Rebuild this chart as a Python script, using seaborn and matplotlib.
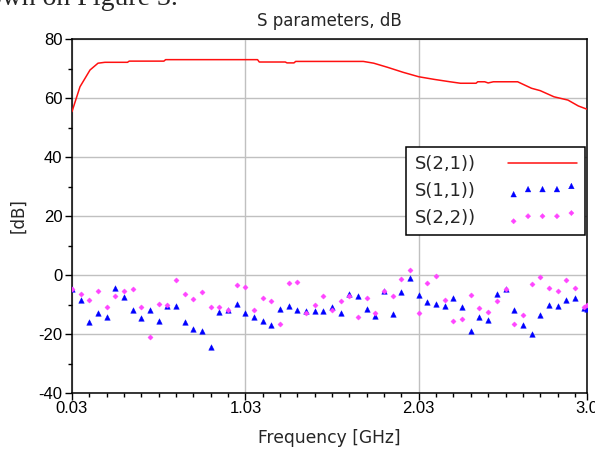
import matplotlib
matplotlib.use("Agg")
import matplotlib.pyplot as plt
import pandas as pd
import seaborn as sns
from matplotlib.ticker import FixedLocator, MultipleLocator

# S(2,1) trace
s21_freq = [0.03, 0.076, 0.134, 0.18, 0.22, 0.35, 0.36, 0.56, 0.57, 1.10, 1.11, 1.26, 1.27,
            1.31, 1.32, 1.71, 1.77, 1.85, 1.94, 2.03, 2.12, 2.21, 2.27, 2.36, 2.37, 2.41,
            2.43, 2.46, 2.60, 2.68, 2.73, 2.81, 2.89, 2.95, 3.0]
s21_db = [55.4, 63.8, 69.5, 71.8, 72.1, 72.1, 72.5, 72.5, 73.0, 73.0, 72.2, 72.2, 71.9,
          71.9, 72.4, 72.4, 71.8, 70.4, 68.7, 67.2, 66.3, 65.5, 65.0, 65.0, 65.5, 65.5,
          65.1, 65.5, 65.5, 63.3, 62.5, 60.4, 59.3, 57.3, 56.2]

# sampled reflection points
freq = [0.03, 0.08, 0.13, 0.18, 0.23, 0.28, 0.33, 0.38, 0.43, 0.48,
        0.53, 0.58, 0.63, 0.68, 0.73, 0.78, 0.83, 0.88, 0.93, 0.98,
        1.03, 1.08, 1.13, 1.18, 1.23, 1.28, 1.33, 1.38, 1.43, 1.48,
        1.53, 1.58, 1.63, 1.68, 1.73, 1.78, 1.83, 1.88, 1.93, 1.98,
        2.03, 2.08, 2.13, 2.18, 2.23, 2.28, 2.33, 2.38, 2.43, 2.48,
        2.53, 2.58, 2.63, 2.68, 2.73, 2.78, 2.83, 2.88, 2.93, 2.98, 3.0]
s11_db = [-4.6, -8.6, -16.0, -12.8, -14.3, -4.3, -7.4, -11.7, -14.6, -12.0,
          -15.5, -10.6, -10.6, -15.8, -18.3, -19.1, -24.5, -12.6, -12.0, -9.7,
          -12.9, -14.3, -15.5, -17.0, -11.5, -10.5, -11.7, -12.1, -12.3, -12.1,
          -10.9, -12.8, -6.4, -7.2, -11.4, -13.9, -5.5, -13.3, -5.6, -1.1,
          -6.7, -9.0, -9.7, -10.5, -7.7, -10.9, -18.9, -14.2, -15.4, -6.3,
          -4.8, -12.0, -16.8, -20.0, -13.7, -10.1, -10.5, -8.5, -7.9, -11.1, -11.4]
s22_db = [-4.6, -6.3, -8.6, -5.4, -10.9, -7.2, -5.4, -4.9, -10.9, -21.1,
          -9.7, -10.3, -1.8, -6.6, -8.1, -5.8, -10.9, -10.9, -11.8, -3.4,
          -4.0, -11.7, -7.7, -8.9, -16.5, -2.7, -2.3, -12.9, -10.3, -7.2,
          -11.7, -8.9, -7.1, -14.3, -7.7, -12.9, -5.4, -7.2, -1.4, 1.7,
          -12.9, -2.7, -0.5, -8.6, -15.7, -14.9, -6.7, -11.2, -12.6, -8.9,
          -4.8, -16.6, -13.4, -3.1, -0.8, -4.5, -5.4, -1.7, -4.5, -10.9, -10.3]

x_ticks = [0.03, 1.03, 2.03, 3.0]
x_ticklabels = ["0.03", "1.03", "2.03", "3.0"]


def main():
    sns.set_style("white")
    plt.rcParams["font.family"] = ["Liberation Sans", "DejaVu Sans"]
    plt.rcParams["axes.unicode_minus"] = False
    txt_font = ["DejaVu Sans"]

    trace = pd.DataFrame({"Frequency": s21_freq, "dB": s21_db})
    points = pd.DataFrame({"Frequency": freq, "S11": s11_db, "S22": s22_db})

    fig = plt.figure(figsize=(5.95, 4.51), dpi=100)
    ax = fig.add_axes([72 / 595, 1 - 393 / 451, 515 / 595, 354 / 451])

    sns.lineplot(x="Frequency", y="dB", data=trace, ax=ax, color="#ff1010", lw=1.1,
                 label="S(2,1))", zorder=3)
    sns.scatterplot(x="Frequency", y="S11", data=points, ax=ax, marker="^", s=16,
                    color="#0000ff", edgecolor="#0000ff", linewidth=0.3,
                    label="S(1,1))", zorder=4)
    sns.scatterplot(x="Frequency", y="S22", data=points, ax=ax, marker="D", s=7,
                    color="#ff44ff", edgecolor="#ff44ff", linewidth=0.3,
                    label="S(2,2))", zorder=4)

    ax.set_xlim(0.03, 3.0)
    ax.set_ylim(-40, 80)
    ax.xaxis.set_major_locator(FixedLocator(x_ticks))
    ax.set_xticklabels(x_ticklabels)
    ax.xaxis.set_minor_locator(FixedLocator([0.03 + 0.1 * i for i in range(30)]))
    ax.yaxis.set_major_locator(MultipleLocator(20))
    ax.yaxis.set_minor_locator(MultipleLocator(10))
    ax.tick_params(which="both", direction="out", colors="black", labelsize=12,
                   bottom=True, left=True)
    ax.tick_params(which="major", length=5, width=1)
    ax.tick_params(which="minor", length=3, width=1)
    ax.tick_params(axis="y", pad=2)
    ax.tick_params(axis="x", pad=1)

    ax.grid(True, which="major", color="#c0c0c0", lw=1)
    for s in ax.spines.values():
        s.set_color("black")
        s.set_linewidth(1.1)

    ax.set_title("S parameters, dB", fontsize=12, pad=9, family=txt_font)
    ax.set_xlabel("Frequency [GHz]", fontsize=12.3, labelpad=9, family=txt_font)
    ax.set_ylabel("[dB]", fontsize=12, labelpad=8, family=txt_font)

    leg = ax.legend(loc="upper right", bbox_to_anchor=(0.996, 0.695), markerfirst=False,
                    prop={"family": txt_font, "size": 13},
                    handlelength=3.8, handletextpad=1.8, labelspacing=0.5,
                    borderpad=0.45, borderaxespad=0, scatterpoints=5,
                    scatteryoffsets=[0.15, 0.55, 0.55, 0.55, 0.8],
                    fancybox=False, framealpha=1, edgecolor="black")
    leg.get_frame().set_linewidth(1.1)
    leg.set_zorder(10)

    fig.text(178 / 595, 1 - 5 / 451, "own on Figure 3.", ha="right", va="baseline",
             fontsize=20, family="Liberation Serif")

    fig.savefig("out.png", dpi=100)


if __name__ == "__main__":
    main()
